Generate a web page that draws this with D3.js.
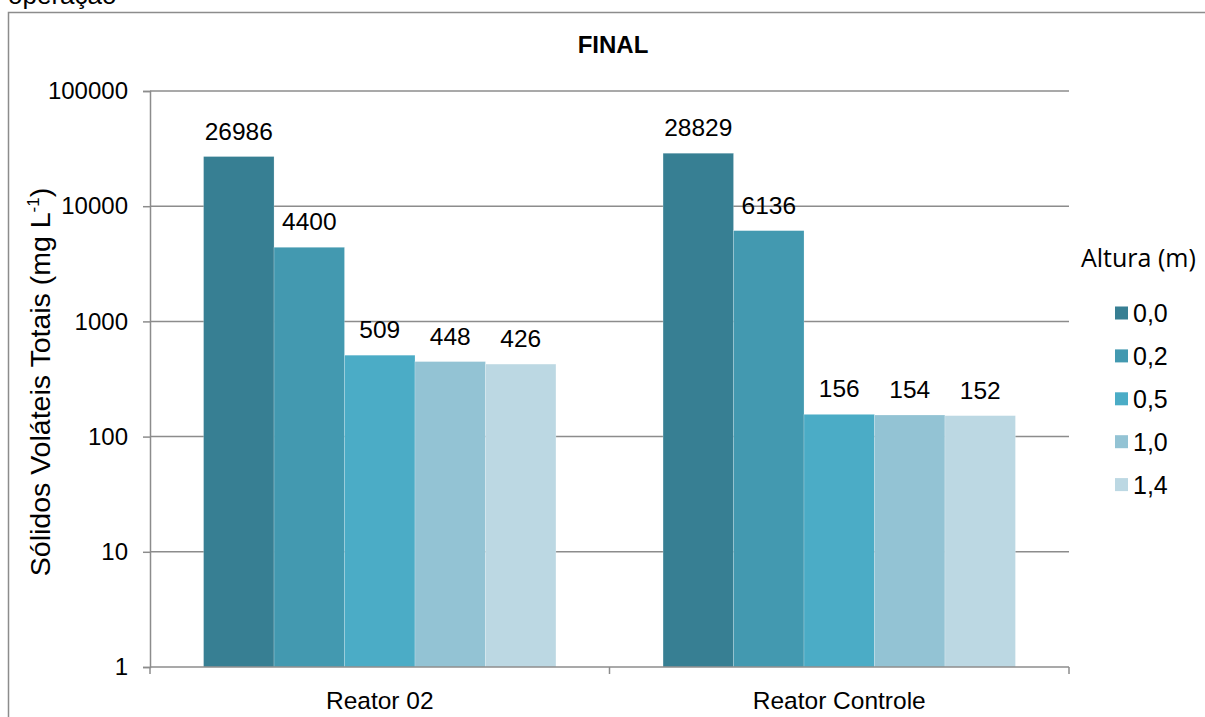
<!DOCTYPE html>
<html>
<head>
<meta charset="utf-8">
<script src="https://cdn.jsdelivr.net/npm/d3@7"></script>
<style>
  body { margin: 0; background: #fff; }
  svg { display: block; font-family: "Liberation Sans", Arial, sans-serif; }
</style>
</head>
<body>
<svg id="chart" width="1205" height="717"></svg>
<script>
// Volatile solids by reactor and sampling height
const categories = ["Reator 02", "Reator Controle"];
const heights = ["0,0", "0,2", "0,5", "1,0", "1,4"];
const reator02 = [26986, 4400, 509, 448, 426];
const reatorControle = [28829, 6136, 156, 154, 152];
const yTicks = [1, 10, 100, 1000, 10000, 100000];
const colors = ["#377f93", "#4399b0", "#4bacc6", "#93c3d4", "#bcd8e3"];

const seriesByCategory = [reator02, reatorControle];

const svg = d3.select("#chart");
const plot = { left: 150, right: 1069, top: 91, bottom: 667 };
const gridColor = "#8c8c8c";

// Outer chart frame (runs past the page edge on the right and bottom)
svg.append("rect")
  .attr("x", 8.5).attr("y", 12.5)
  .attr("width", 1220).attr("height", 740)
  .attr("fill", "none").attr("stroke", gridColor).attr("stroke-width", 1.5);

// Caption fragment above the frame
svg.append("text")
  .attr("x", 8).attr("y", 4)
  .attr("font-size", 26).attr("fill", "#000")
  .text("operação");

const y = d3.scaleLog().domain([1, 100000]).range([plot.bottom, plot.top]);
const x0 = d3.scaleBand().domain(categories).range([plot.left, plot.right]);
const x1 = d3.scaleBand().domain(heights).range([0, x0.bandwidth()])
  .paddingInner(0).paddingOuter(0.76);

// Gridlines
svg.append("g")
  .selectAll("line")
  .data(yTicks.slice(1))
  .join("line")
  .attr("x1", plot.left).attr("x2", plot.right)
  .attr("y1", d => y(d)).attr("y2", d => y(d))
  .attr("stroke", gridColor).attr("stroke-width", 1.5);

// Bars
const groups = svg.append("g")
  .selectAll("g")
  .data(categories)
  .join("g")
  .attr("transform", d => `translate(${x0(d)},0)`);

const rows = (d, i) => seriesByCategory[i].map((v, j) => ({ h: heights[j], v, j }));

groups.selectAll("rect")
  .data(rows)
  .join("rect")
  .attr("x", d => x1(d.h))
  .attr("width", x1.bandwidth())
  .attr("y", d => y(d.v))
  .attr("height", d => y(1) - y(d.v))
  .attr("fill", d => colors[d.j])
  .attr("stroke", "rgba(255,255,255,0.35)")
  .attr("stroke-width", 0.6);

groups.selectAll("text")
  .data(rows)
  .join("text")
  .attr("x", d => x1(d.h) + x1.bandwidth() / 2)
  .attr("y", d => y(d.v) - 17)
  .attr("text-anchor", "middle")
  .attr("font-size", 24.5)
  .attr("fill", "#000")
  .text(d => d.v);

// Y axis
const yAxis = svg.append("g")
  .attr("transform", `translate(${plot.left},0)`)
  .call(d3.axisLeft(y).tickValues(yTicks).tickFormat(d3.format("d")).tickSize(7).tickPadding(15));
yAxis.select(".domain").attr("stroke", gridColor).attr("stroke-width", 1.5);
yAxis.selectAll(".tick line").attr("stroke", gridColor).attr("stroke-width", 1.5);
yAxis.selectAll(".tick text").attr("font-size", 24).attr("fill", "#000")
  .attr("font-family", "Liberation Sans, Arial, sans-serif");

// X axis
const xAxisG = svg.append("g").attr("transform", `translate(0,${plot.bottom})`);
xAxisG.append("line")
  .attr("x1", plot.left).attr("x2", plot.right)
  .attr("stroke", gridColor).attr("stroke-width", 1.5);
const boundaries = categories.map(c => x0(c)).concat([plot.right]);
xAxisG.selectAll("line.tk")
  .data(boundaries)
  .join("line").attr("class", "tk")
  .attr("x1", d => d).attr("x2", d => d)
  .attr("y1", 0).attr("y2", 7)
  .attr("stroke", gridColor).attr("stroke-width", 1.5);
xAxisG.selectAll("text")
  .data(categories)
  .join("text")
  .attr("x", d => x0(d) + x0.bandwidth() / 2)
  .attr("y", 42)
  .attr("text-anchor", "middle")
  .attr("font-size", 24.5)
  .attr("fill", "#000")
  .text(d => d);

// Title
svg.append("text")
  .attr("x", 613).attr("y", 53)
  .attr("text-anchor", "middle")
  .attr("font-size", 24).attr("font-weight", "bold")
  .text("FINAL");

// Y axis title with superscript
const yt = svg.append("text")
  .attr("transform", "translate(50,382) rotate(-90)")
  .attr("text-anchor", "middle")
  .attr("font-size", 28.5);
yt.append("tspan").text("Sólidos Voláteis Totais (mg L");
yt.append("tspan").attr("font-size", 17).attr("dy", -11).text("-1");
yt.append("tspan").attr("dy", 11).text(")");

// Legend
const legend = svg.append("g");
legend.append("text")
  .attr("x", 1081).attr("y", 267)
  .attr("font-family", "Open Sans, sans-serif")
  .attr("font-size", 25)
  .text("Altura (m)");
const li = legend.selectAll("g.item")
  .data(heights)
  .join("g").attr("class", "item")
  .attr("transform", (d, i) => `translate(1115,${313 + i * 42.9})`);
li.append("rect")
  .attr("x", 0).attr("y", -6.5)
  .attr("width", 13).attr("height", 13)
  .attr("fill", (d, i) => colors[i]);
li.append("text")
  .attr("x", 18).attr("y", 9)
  .attr("font-size", 25)
  .text(d => d);
</script>
</body>
</html>
